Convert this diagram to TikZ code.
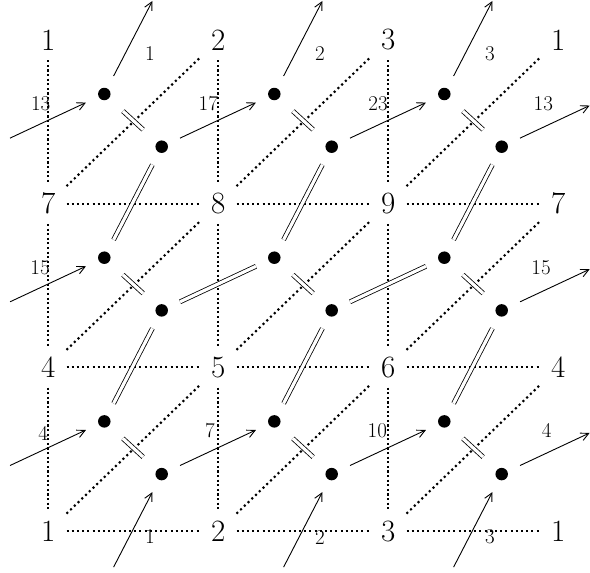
\documentclass[tikz,border=0pt]{standalone}
\usetikzlibrary{arrows.meta}
\begin{document}
\begin{tikzpicture}[x=1pt,y=-1pt,
  gridlab/.style={rectangle, inner sep=0pt, minimum width=36pt, minimum height=40pt, font=\fontsize{31}{31}\selectfont},
  smalllab/.style={inner sep=0pt, font=\fontsize{21}{21}\selectfont},
  bdot/.style={circle, fill=black, inner sep=0pt, minimum size=12.5pt, outer sep=14pt},
  ghost/.style={circle, inner sep=0pt, minimum size=12.5pt, outer sep=14pt},
  dotline/.style={line width=2.1pt, dash pattern=on 2.1pt off 3.1pt},
  vdotline/.style={line width=2.1pt, dash pattern=on 2.1pt off 2.5pt},
  dbl/.style={double, double distance=3.2pt, line width=0.8pt},
  arr/.style={line width=0.9pt, -{Straight Barb[length=8pt,width=8pt]}}
]
\useasboundingbox (0,0) rectangle (590,573);
% grid labels
\foreach \i/\a/\b/\c in {0/1/2/3, 1/7/8/9, 2/4/5/6, 3/1/2/3} {
  \node[gridlab] (g-\i-0) at (48.3, {40+163.7*\i}) {\a};
  \node[gridlab] (g-\i-1) at (218.3, {40+163.7*\i}) {\b};
  \node[gridlab] (g-\i-2) at (388.3, {40+163.7*\i}) {\c};
  \node[gridlab] (g-\i-3) at (558.3, {40+163.7*\i}) {\a};
}
% dots
\foreach \i in {0,1,2} {
  \foreach \j in {0,1,2} {
    \node[bdot] (A-\i-\j) at ({104.3+170*\j},{94+163.7*\i}) {};
    \node[bdot] (B-\i-\j) at ({161.7+170*\j},{146.7+163.7*\i}) {};
  }
}
% off-picture partners of the wrapping edges
\foreach \i in {0,1,2} {
  \node[ghost] (BL-\i) at ({161.7-170},{146.7+163.7*\i}) {};
  \node[ghost] (AR-\i) at ({104.3+510},{94+163.7*\i}) {};
}
\foreach \j in {0,1,2} {
  \node[ghost] (BT-\j) at ({161.7+170*\j},{146.7-163.7}) {};
  \node[ghost] (AB-\j) at ({104.3+170*\j},{94+163.7*3}) {};
}
% dotted triangulation
\foreach \i in {0,1,2} {
  \foreach \j in {0,1,2} {
    \pgfmathtruncatemacro\ii{\i+1}
    \pgfmathtruncatemacro\jj{\j+1}
    \draw[vdotline] (g-\i-\j) -- (g-\ii-\j);
    \draw[dotline] (g-\ii-\j) -- (g-\ii-\jj);
    \draw[dotline] (g-\ii-\j) -- (g-\i-\jj);
    \draw[dbl, shorten >=5pt, shorten <=5pt] (A-\i-\j) -- (B-\i-\j);
  }
}
% vertical double edges
\foreach \j in {0,1,2} {
  \draw[dbl] (B-0-\j) -- (A-1-\j);
  \draw[dbl] (B-1-\j) -- (A-2-\j);
  \draw[arr] (A-0-\j) -- (BT-\j);
  \draw[arr] (AB-\j) -- (B-2-\j);
}
% horizontal edges
\foreach \i in {0,2} {
  \draw[arr] (BL-\i) -- (A-\i-0);
  \draw[arr] (B-\i-0) -- (A-\i-1);
  \draw[arr] (B-\i-1) -- (A-\i-2);
  \draw[arr, shorten >=7pt] (B-\i-2) -- (AR-\i);
}
\draw[arr] (BL-1) -- (A-1-0);
\draw[dbl] (B-1-0) -- (A-1-1);
\draw[dbl] (B-1-1) -- (A-1-2);
\draw[arr, shorten >=7pt] (B-1-2) -- (AR-1);
% edge labels
\node[smalllab] (lt1) at (150,53.3) {1};
\node[smalllab] (lt2) at (320,53.3) {2};
\node[smalllab] (lt3) at (490,53.3) {3};
\node[smalllab] (lb1) at (150,536.7) {1};
\node[smalllab] (lb2) at (320,538) {2};
\node[smalllab] (lb3) at (490,536.7) {3};
\node[smalllab] (la1) at (40.7,103.3) {13};
\node[smalllab] (la2) at (208.3,103.3) {17};
\node[smalllab] (la3) at (378,103.3) {23};
\node[smalllab] (la4) at (543.3,104) {13};
\node[smalllab] (lm1) at (40,267.3) {15};
\node[smalllab] (lm4) at (541,268) {15};
\node[smalllab] (lc1) at (43.3,433.3) {4};
\node[smalllab] (lc2) at (210,430.5) {7};
\node[smalllab] (lc3) at (377.3,430.7) {10};
\node[smalllab] (lc4) at (546.7,430.7) {4};
\end{tikzpicture}
\end{document}
